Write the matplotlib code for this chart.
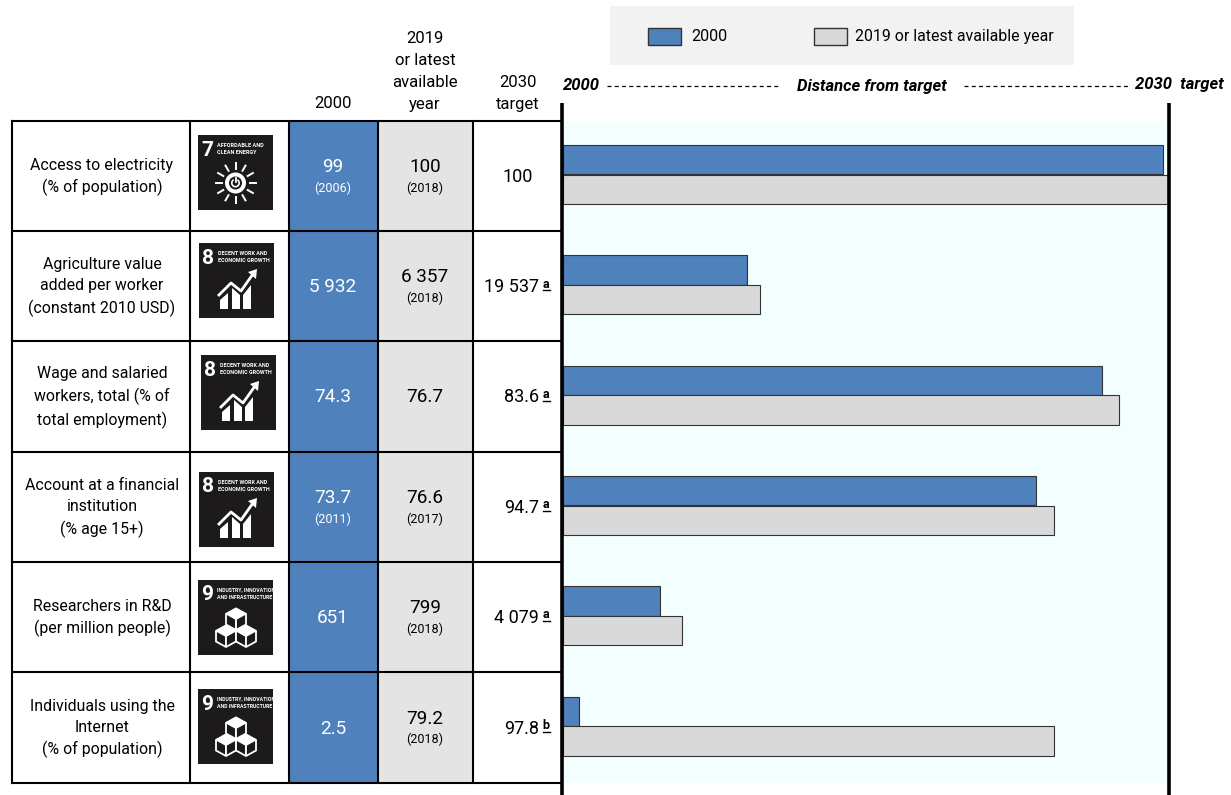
import matplotlib
matplotlib.use("Agg")
import matplotlib.pyplot as plt
from matplotlib.patches import Rectangle, Polygon, Circle, Wedge

plt.rcParams['font.family'] = ['Roboto', 'Liberation Sans', 'DejaVu Sans']

indicators = ["Access to electricity\n(% of population)",
              "Agriculture value\nadded per worker\n(constant 2010 USD)",
              "Wage and salaried\nworkers, total (% of\ntotal employment)",
              "Account at a financial\ninstitution\n(% age 15+)",
              "Researchers in R&D\n(per million people)",
              "Individuals using the\nInternet\n(% of population)"]
goal_num = ["7", "8", "8", "8", "9", "9"]
goal_text = ["AFFORDABLE AND\nCLEAN ENERGY", "DECENT WORK AND\nECONOMIC GROWTH", "DECENT WORK AND\nECONOMIC GROWTH",
             "DECENT WORK AND\nECONOMIC GROWTH", "INDUSTRY, INNOVATION\nAND INFRASTRUCTURE", "INDUSTRY, INNOVATION\nAND INFRASTRUCTURE"]
vals_2000 = ["99", "5 932", "74.3", "73.7", "651", "2.5"]
years_2000 = ["(2006)", "", "", "(2011)", "", ""]
vals_2019 = ["100", "6 357", "76.7", "76.6", "799", "79.2"]
years_2019 = ["(2018)", "(2018)", "", "(2017)", "(2018)", "(2018)"]
vals_target = ["100", "19 537", "83.6", "94.7", "4 079", "97.8"]
notes = ["", "a", "a", "a", "a", "b"]
# distance from target, share of the way to 2030 target
dist_2000 = [99.2, 30.4, 89.1, 78.1, 16.0, 2.6]
dist_2019 = [100.0, 32.6, 91.9, 81.1, 19.7, 81.1]

BLUE = "#4f81bd"
GREY = "#d9d9d9"
DARK = "#1d1a1b"
W, H = 1231, 795
row_y = [121, 231, 341, 452, 562, 672, 783]
col_x = [12, 190, 289, 378, 473, 562]
icon_x = [198, 199, 201, 199, 198, 198]
icon_y = [135, 243, 355, 472, 580, 689]
icon_font = {"7": 4.0, "8": 3.9, "9": 3.7}


def draw_icon(ax, x, y, num, text):
    s = 75
    ax.add_patch(Rectangle((x, y), s, s, fc=DARK, ec="none", zorder=3))
    ax.text(x + 9, y + 15, num, color="white", fontsize=15, fontweight="bold", ha="center", va="center", zorder=4)
    ax.text(x + 19, y + 14, text, color="white", fontsize=icon_font[num], fontweight="bold", va="center", linespacing=1.7, zorder=4)
    if num == "7":
        cx, cy = x + 37.5, y + 48
        for dx, dy in [(0, -1), (0.5, -0.87), (0.87, -0.5), (1, 0), (0.87, 0.5), (0.5, 0.87),
                       (0, 1), (-0.5, 0.87), (-0.87, 0.5), (-1, 0), (-0.87, -0.5), (-0.5, -0.87)]:
            ax.plot([cx + 14 * dx, cx + 20 * dx], [cy + 14 * dy, cy + 20 * dy], color="white", lw=1.4, zorder=4)
        ax.add_patch(Circle((cx, cy), 10.5, fc="white", ec="none", zorder=4))
        ax.add_patch(Circle((cx, cy), 6.5, fc=DARK, ec="none", zorder=5))
        ax.add_patch(Wedge((cx, cy), 4.5, -60, 240, width=1.6, fc="white", ec="none", zorder=6))
        ax.plot([cx, cx], [cy - 5, cy - 1], color="white", lw=1.3, zorder=6)
    elif num == "8":
        for x0, x1, t0, t1 in [(21, 29, 57, 50), (33, 41, 45, 52), (44, 52, 52, 42)]:
            ax.add_patch(Polygon([(x + x0, y + 66), (x + x0, y + t0), (x + x1, y + t1), (x + x1, y + 66)], fc="white", ec="none", zorder=4))
        ax.plot([x + 20, x + 32, x + 42, x + 54], [y + 52, y + 40, y + 48, y + 31], color="white", lw=2.0, zorder=5)
        ax.add_patch(Polygon([(x + 49, y + 29), (x + 58, y + 26), (x + 57, y + 36)], fc="white", ec="none", zorder=5))
    else:
        for cx, top in [(x + 38, y + 28), (x + 28, y + 45), (x + 48, y + 45)]:
            ax.add_patch(Polygon([(cx, top), (cx + 10, top + 5.5), (cx, top + 11), (cx - 10, top + 5.5)], fc="white", ec="white", lw=0.8, zorder=4))
            ax.add_patch(Polygon([(cx - 10, top + 5.5), (cx, top + 11), (cx, top + 22), (cx - 10, top + 16.5)], fc=DARK, ec="white", lw=1.3, zorder=4))
            ax.add_patch(Polygon([(cx + 10, top + 5.5), (cx, top + 11), (cx, top + 22), (cx + 10, top + 16.5)], fc=DARK, ec="white", lw=1.3, zorder=4))


fig = plt.figure(figsize=(W / 100, H / 100), dpi=100)
ax = fig.add_axes([0, 0, 1, 1])
ax.set_xlim(0, W)
ax.set_ylim(H, 0)
ax.axis("off")

# coloured columns
ax.add_patch(Rectangle((col_x[2], row_y[0]), col_x[3] - col_x[2], row_y[-1] - row_y[0], fc=BLUE, ec="none"))
ax.add_patch(Rectangle((col_x[3], row_y[0]), col_x[4] - col_x[3], row_y[-1] - row_y[0], fc="#e4e4e4", ec="none"))

# table grid
for y in row_y:
    ax.plot([col_x[0], col_x[-1]], [y, y], color="black", lw=1.5, zorder=2)
for x in col_x[:-1]:
    ax.plot([x, x], [row_y[0], row_y[-1]], color="black", lw=1.5, zorder=2)

# header
fs = 12
ls = 1.58
ax.text(333, 104, "2000", ha="center", va="center", fontsize=fs)
ax.text(425, 112, "2019\nor latest\navailable\nyear", ha="center", va="bottom", fontsize=fs, linespacing=ls)
ax.text(518, 112, "2030\ntarget", ha="center", va="bottom", fontsize=fs, linespacing=ls)

big = 13.6
small = 9
for i in range(6):
    yc = (row_y[i] + row_y[i + 1]) / 2
    ax.text(102, yc + 1, indicators[i], ha="center", va="center", fontsize=11.4, linespacing=1.5)
    draw_icon(ax, icon_x[i], icon_y[i], goal_num[i], goal_text[i])
    if years_2000[i]:
        ax.text(333, yc - 9, vals_2000[i], ha="center", va="center", fontsize=big, color="white")
        ax.text(333, yc + 12, years_2000[i], ha="center", va="center", fontsize=small, color="white")
    else:
        ax.text(333, yc + 1, vals_2000[i], ha="center", va="center", fontsize=big, color="white")
    if years_2019[i]:
        ax.text(425, yc - 9, vals_2019[i], ha="center", va="center", fontsize=big)
        ax.text(425, yc + 12, years_2019[i], ha="center", va="center", fontsize=small)
    else:
        ax.text(425, yc + 1, vals_2019[i], ha="center", va="center", fontsize=big)
    if notes[i]:
        ax.text(539, yc + 1, vals_target[i], ha="right", va="center", fontsize=13)
        ax.text(546, yc - 2, notes[i], ha="center", va="center", fontsize=9, fontweight="bold")
        ax.plot([542.5, 549.5], [yc + 4, yc + 4], color="black", lw=1)
    else:
        ax.text(518, yc + 1, vals_target[i], ha="center", va="center", fontsize=13)

# legend box
ax.add_patch(Rectangle((610, 6), 464, 59, fc="#f2f2f2", ec="none"))
ax.add_patch(Rectangle((648, 28), 33, 17, fc=BLUE, ec="#333333", lw=1))
ax.text(691, 36.5, "2000", va="center", fontsize=11.6)
ax.add_patch(Rectangle((814, 28), 33, 17, fc=GREY, ec="#333333", lw=1))
ax.text(855, 36.5, "2019 or latest available year", va="center", fontsize=11.4)

# distance from target header
bfs = 12
ax.text(563, 86, "2000", va="center", fontsize=bfs, fontweight="bold", style="italic")
ax.text(872, 86, "Distance from target", ha="center", va="center", fontsize=bfs, fontweight="bold", style="italic")
ax.text(1135, 85, "2030  target", va="center", fontsize=bfs, fontweight="bold", style="italic")
ax.plot([607, 780], [86, 86], color="black", lw=0.9, dashes=(3.2, 2.6))
ax.plot([964, 1128], [86, 86], color="black", lw=0.9, dashes=(3.2, 2.6))

# bars, 0-100 runs between the two thick lines
bx = fig.add_axes([563 / W, 1 - 783 / H, (1168 - 563) / W, (783 - 121) / H])
bx.set_facecolor("#f3ffff")
bx.set_xlim(0, 100)
bx.set_ylim(5.5, -0.5)
h = 29.5 / 110.3
pos = list(range(6))
bx.barh([p - 0.135 - 0.015 for p in pos], dist_2000, height=h, color=BLUE, edgecolor="#333333", linewidth=0.8)
bx.barh([p + 0.135 - 0.015 for p in pos], dist_2019, height=h, color=GREY, edgecolor="#333333", linewidth=0.8)
bx.set_xticks([])
bx.set_yticks([])
for s in bx.spines.values():
    s.set_visible(False)

ax2 = fig.add_axes([0, 0, 1, 1])
ax2.set_xlim(0, W)
ax2.set_ylim(H, 0)
ax2.axis("off")
ax2.plot([562, 562], [103, 795], color="black", lw=2.6, solid_capstyle="butt")
ax2.plot([1169, 1169], [103, 795], color="black", lw=2.6, solid_capstyle="butt")

fig.savefig("out.png", dpi=100)
